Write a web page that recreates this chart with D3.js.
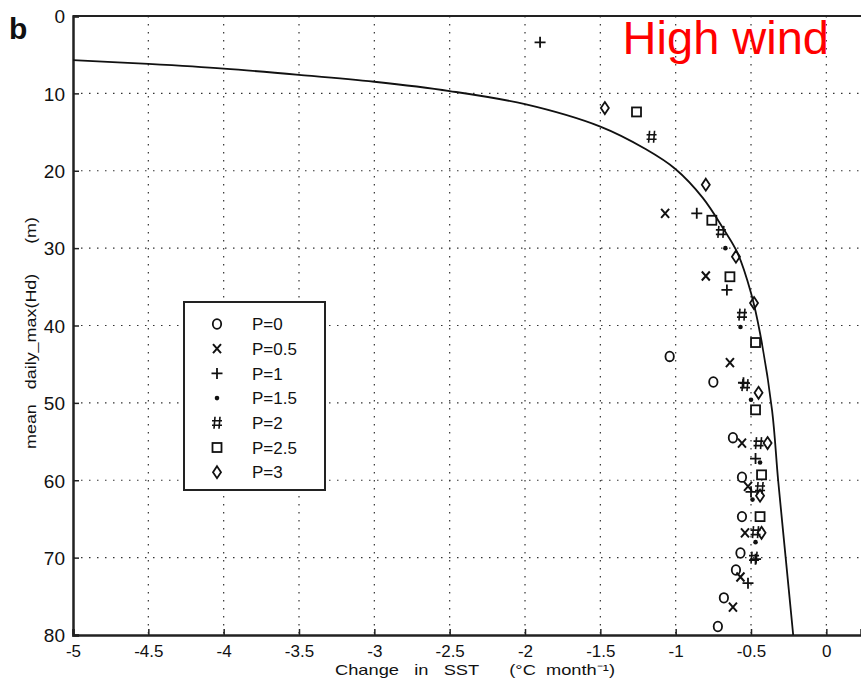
<!DOCTYPE html>
<html>
<head>
<meta charset="utf-8">
<script src="https://cdn.jsdelivr.net/npm/d3@7"></script>
<style>
  body { margin: 0; background: #fff; }
  svg { font-family: "Liberation Sans", Arial, sans-serif; }
</style>
</head>
<body>
<div id="chart"></div>
<script>
// tick labels
const xTicks = [-5, -4.5, -4, -3.5, -3, -2.5, -2, -1.5, -1, -0.5, 0];
const yTicks = [0, 10, 20, 30, 40, 50, 60, 70, 80];

// model curve (change in SST, depth)
const curveX = [-5, -4.5, -4, -3.5, -3, -2.5, -2, -1.5, -1.2, -1.0, -0.82, -0.68, -0.59, -0.5, -0.44, -0.36, -0.32, -0.27, -0.22];
const curveY = [5.7, 6.2, 6.8, 7.6, 8.5, 9.7, 11.4, 14.3, 17.2, 19.8, 23.5, 27.6, 30.6, 35.8, 41, 51, 60, 70, 80];

// scatter series
const seriesNames = ["P=0", "P=0.5", "P=1", "P=1.5", "P=2", "P=2.5", "P=3"];
const seriesSymbols = ["o", "x", "+", "*", "#", "s", "d"];
const p0x = [-1.04, -0.75, -0.62, -0.56, -0.56, -0.57, -0.60, -0.68, -0.72];
const p0y = [44.0, 47.3, 54.5, 59.6, 64.7, 69.4, 71.6, 75.2, 78.9];
const p05x = [-1.07, -0.80, -0.64, -0.56, -0.52, -0.54, -0.57, -0.62];
const p05y = [25.5, 33.6, 44.8, 55.2, 60.8, 66.8, 72.5, 76.4];
const p1x = [-1.90, -0.86, -0.66, -0.55, -0.47, -0.50, -0.47, -0.52];
const p1y = [3.4, 25.5, 35.4, 47.4, 57.2, 61.5, 70.2, 73.3];
const p15x = [-0.67, -0.57, -0.50, -0.44, -0.49, -0.47];
const p15y = [30.0, 40.2, 49.6, 57.7, 62.5, 68.0];
const p2x = [-1.16, -0.70, -0.56, -0.54, -0.45, -0.44, -0.47, -0.48];
const p2y = [15.6, 27.9, 38.6, 47.7, 55.2, 61.0, 66.7, 70.0];
const p25x = [-1.26, -0.76, -0.64, -0.47, -0.47, -0.43, -0.44];
const p25y = [12.4, 26.4, 33.7, 42.2, 50.9, 59.3, 64.7];
const p3x = [-1.47, -0.80, -0.60, -0.48, -0.45, -0.39, -0.44, -0.43];
const p3y = [11.9, 21.8, 31.1, 37.1, 48.7, 55.2, 62.0, 66.8];
const seriesX = [p0x, p05x, p1x, p15x, p2x, p25x, p3x];
const seriesY = [p0y, p05y, p1y, p15y, p2y, p25y, p3y];

const W = 861, H = 690;
const margin = { top: 16, right: 0, bottom: 55, left: 73 };

const svg = d3.select("#chart").append("svg")
  .attr("width", W).attr("height", H);

const x = d3.scaleLinear().domain([-5, 0.23]).range([margin.left, W - margin.right]);
const y = d3.scaleLinear().domain([0, 80]).range([margin.top, H - margin.bottom]);

// dotted grid
svg.append("g").selectAll("line")
  .data(xTicks.slice(1))
  .enter().append("line")
  .attr("x1", d => x(d)).attr("x2", d => x(d))
  .attr("y1", y(0)).attr("y2", y(80))
  .attr("stroke", "#333").attr("stroke-width", 1.2)
  .attr("stroke-dasharray", "1.5,6.5");
svg.append("g").selectAll("line")
  .data(yTicks.slice(1, -1))
  .enter().append("line")
  .attr("x1", x(-5)).attr("x2", W)
  .attr("y1", d => y(d)).attr("y2", d => y(d))
  .attr("stroke", "#333").attr("stroke-width", 1.2)
  .attr("stroke-dasharray", "1.5,6.5");

// top border
svg.append("line")
  .attr("x1", x(-5)).attr("x2", W)
  .attr("y1", y(0)).attr("y2", y(0))
  .attr("stroke", "#222").attr("stroke-width", 2);

// axes
const yAxis = svg.append("g")
  .attr("transform", "translate(" + x(-5) + ",0)")
  .call(d3.axisLeft(y).tickValues(yTicks).tickSize(-6).tickPadding(8).tickFormat(d => String(d)));
const xAxis = svg.append("g")
  .attr("transform", "translate(0," + y(80) + ")")
  .call(d3.axisBottom(x).tickValues(xTicks).tickSize(-6).tickPadding(10).tickFormat(d => String(d)));
[yAxis, xAxis].forEach(a => {
  a.select(".domain").attr("stroke", "#222").attr("stroke-width", 2.5);
  a.selectAll(".tick line").attr("stroke", "#222").attr("stroke-width", 1.5);
  a.selectAll("text").attr("fill", "#111").style("font-size", "17px");
});
yAxis.selectAll("text").style("font-size", "19px").attr("dy", "0.36em");

// model curve
const line = d3.line()
  .x(d => x(d[0])).y(d => y(d[1]))
  .curve(d3.curveCatmullRom);
svg.append("path")
  .datum(curveX.map((v, i) => [v, curveY[i]]))
  .attr("d", line)
  .attr("fill", "none").attr("stroke", "#111").attr("stroke-width", 1.8);

// marker drawing
function drawMarker(g, sym, cx, cy) {
  const s = "#111";
  if (sym === "o") {
    g.append("ellipse").attr("cx", cx).attr("cy", cy).attr("rx", 4.2).attr("ry", 4.8)
      .attr("fill", "none").attr("stroke", s).attr("stroke-width", 1.8);
  } else if (sym === "x") {
    g.append("path").attr("d", `M${cx-4},${cy-4.5}L${cx+4},${cy+4.5}M${cx+4},${cy-4.5}L${cx-4},${cy+4.5}`)
      .attr("stroke", s).attr("stroke-width", 2);
  } else if (sym === "+") {
    g.append("path").attr("d", `M${cx-5.5},${cy}L${cx+5.5},${cy}M${cx},${cy-5.5}L${cx},${cy+5.5}`)
      .attr("stroke", s).attr("stroke-width", 1.8);
  } else if (sym === "*") {
    g.append("circle").attr("cx", cx).attr("cy", cy).attr("r", 2.3).attr("fill", s);
  } else if (sym === "#") {
    g.append("path").attr("d",
      `M${cx-2},${cy-6}L${cx-3},${cy+6}M${cx+3},${cy-6}L${cx+2},${cy+6}M${cx-5},${cy-2}L${cx+5},${cy-2}M${cx-5},${cy+2.5}L${cx+5},${cy+2.5}`)
      .attr("stroke", s).attr("stroke-width", 1.6);
  } else if (sym === "s") {
    g.append("rect").attr("x", cx - 4.5).attr("y", cy - 4.5).attr("width", 9).attr("height", 9)
      .attr("fill", "none").attr("stroke", s).attr("stroke-width", 1.8);
  } else if (sym === "d") {
    g.append("path").attr("d", `M${cx},${cy-6}L${cx+4},${cy}L${cx},${cy+6}L${cx-4},${cy}Z`)
      .attr("fill", "none").attr("stroke", s).attr("stroke-width", 1.8);
  }
}

const marks = svg.append("g");
seriesSymbols.forEach((sym, k) => {
  seriesX[k].forEach((v, i) => drawMarker(marks, sym, x(v), y(seriesY[k][i])));
});

// legend
const leg = svg.append("g").attr("transform", "translate(184,302)");
leg.append("rect").attr("width", 141).attr("height", 188)
  .attr("fill", "#fff").attr("stroke", "#222").attr("stroke-width", 2);
seriesNames.forEach((name, i) => {
  const ry = 22 + i * 24.7;
  drawMarker(leg, seriesSymbols[i], 33, ry);
  leg.append("text").attr("x", 68).attr("y", ry).attr("dy", "0.36em")
    .style("font-size", "17px").attr("fill", "#111").text(name);
});

// panel letter
svg.append("text").attr("x", 9).attr("y", 39)
  .style("font-size", "30px").style("font-weight", "bold").attr("fill", "#111").text("b");

// annotation
svg.append("text").attr("x", 829).attr("y", 54).attr("text-anchor", "end")
  .style("font-size", "47px").attr("fill", "#ff0000").text("High wind");

// axis titles
svg.append("text")
  .attr("transform", "translate(36,333) rotate(-90)")
  .attr("text-anchor", "middle")
  .style("white-space", "pre")
  .attr("textLength", 232).attr("lengthAdjust", "spacingAndGlyphs")
  .style("font-size", "14px").attr("fill", "#111")
  .text("mean   daily_max(Hd)      (m)");
svg.append("text")
  .attr("x", 475).attr("y", 675)
  .attr("text-anchor", "middle")
  .style("white-space", "pre")
  .attr("textLength", 280).attr("lengthAdjust", "spacingAndGlyphs")
  .style("font-size", "15px").attr("fill", "#111")
  .text("Change   in   SST      (°C  month\u207B\u00B9)");
</script>
</body>
</html>
